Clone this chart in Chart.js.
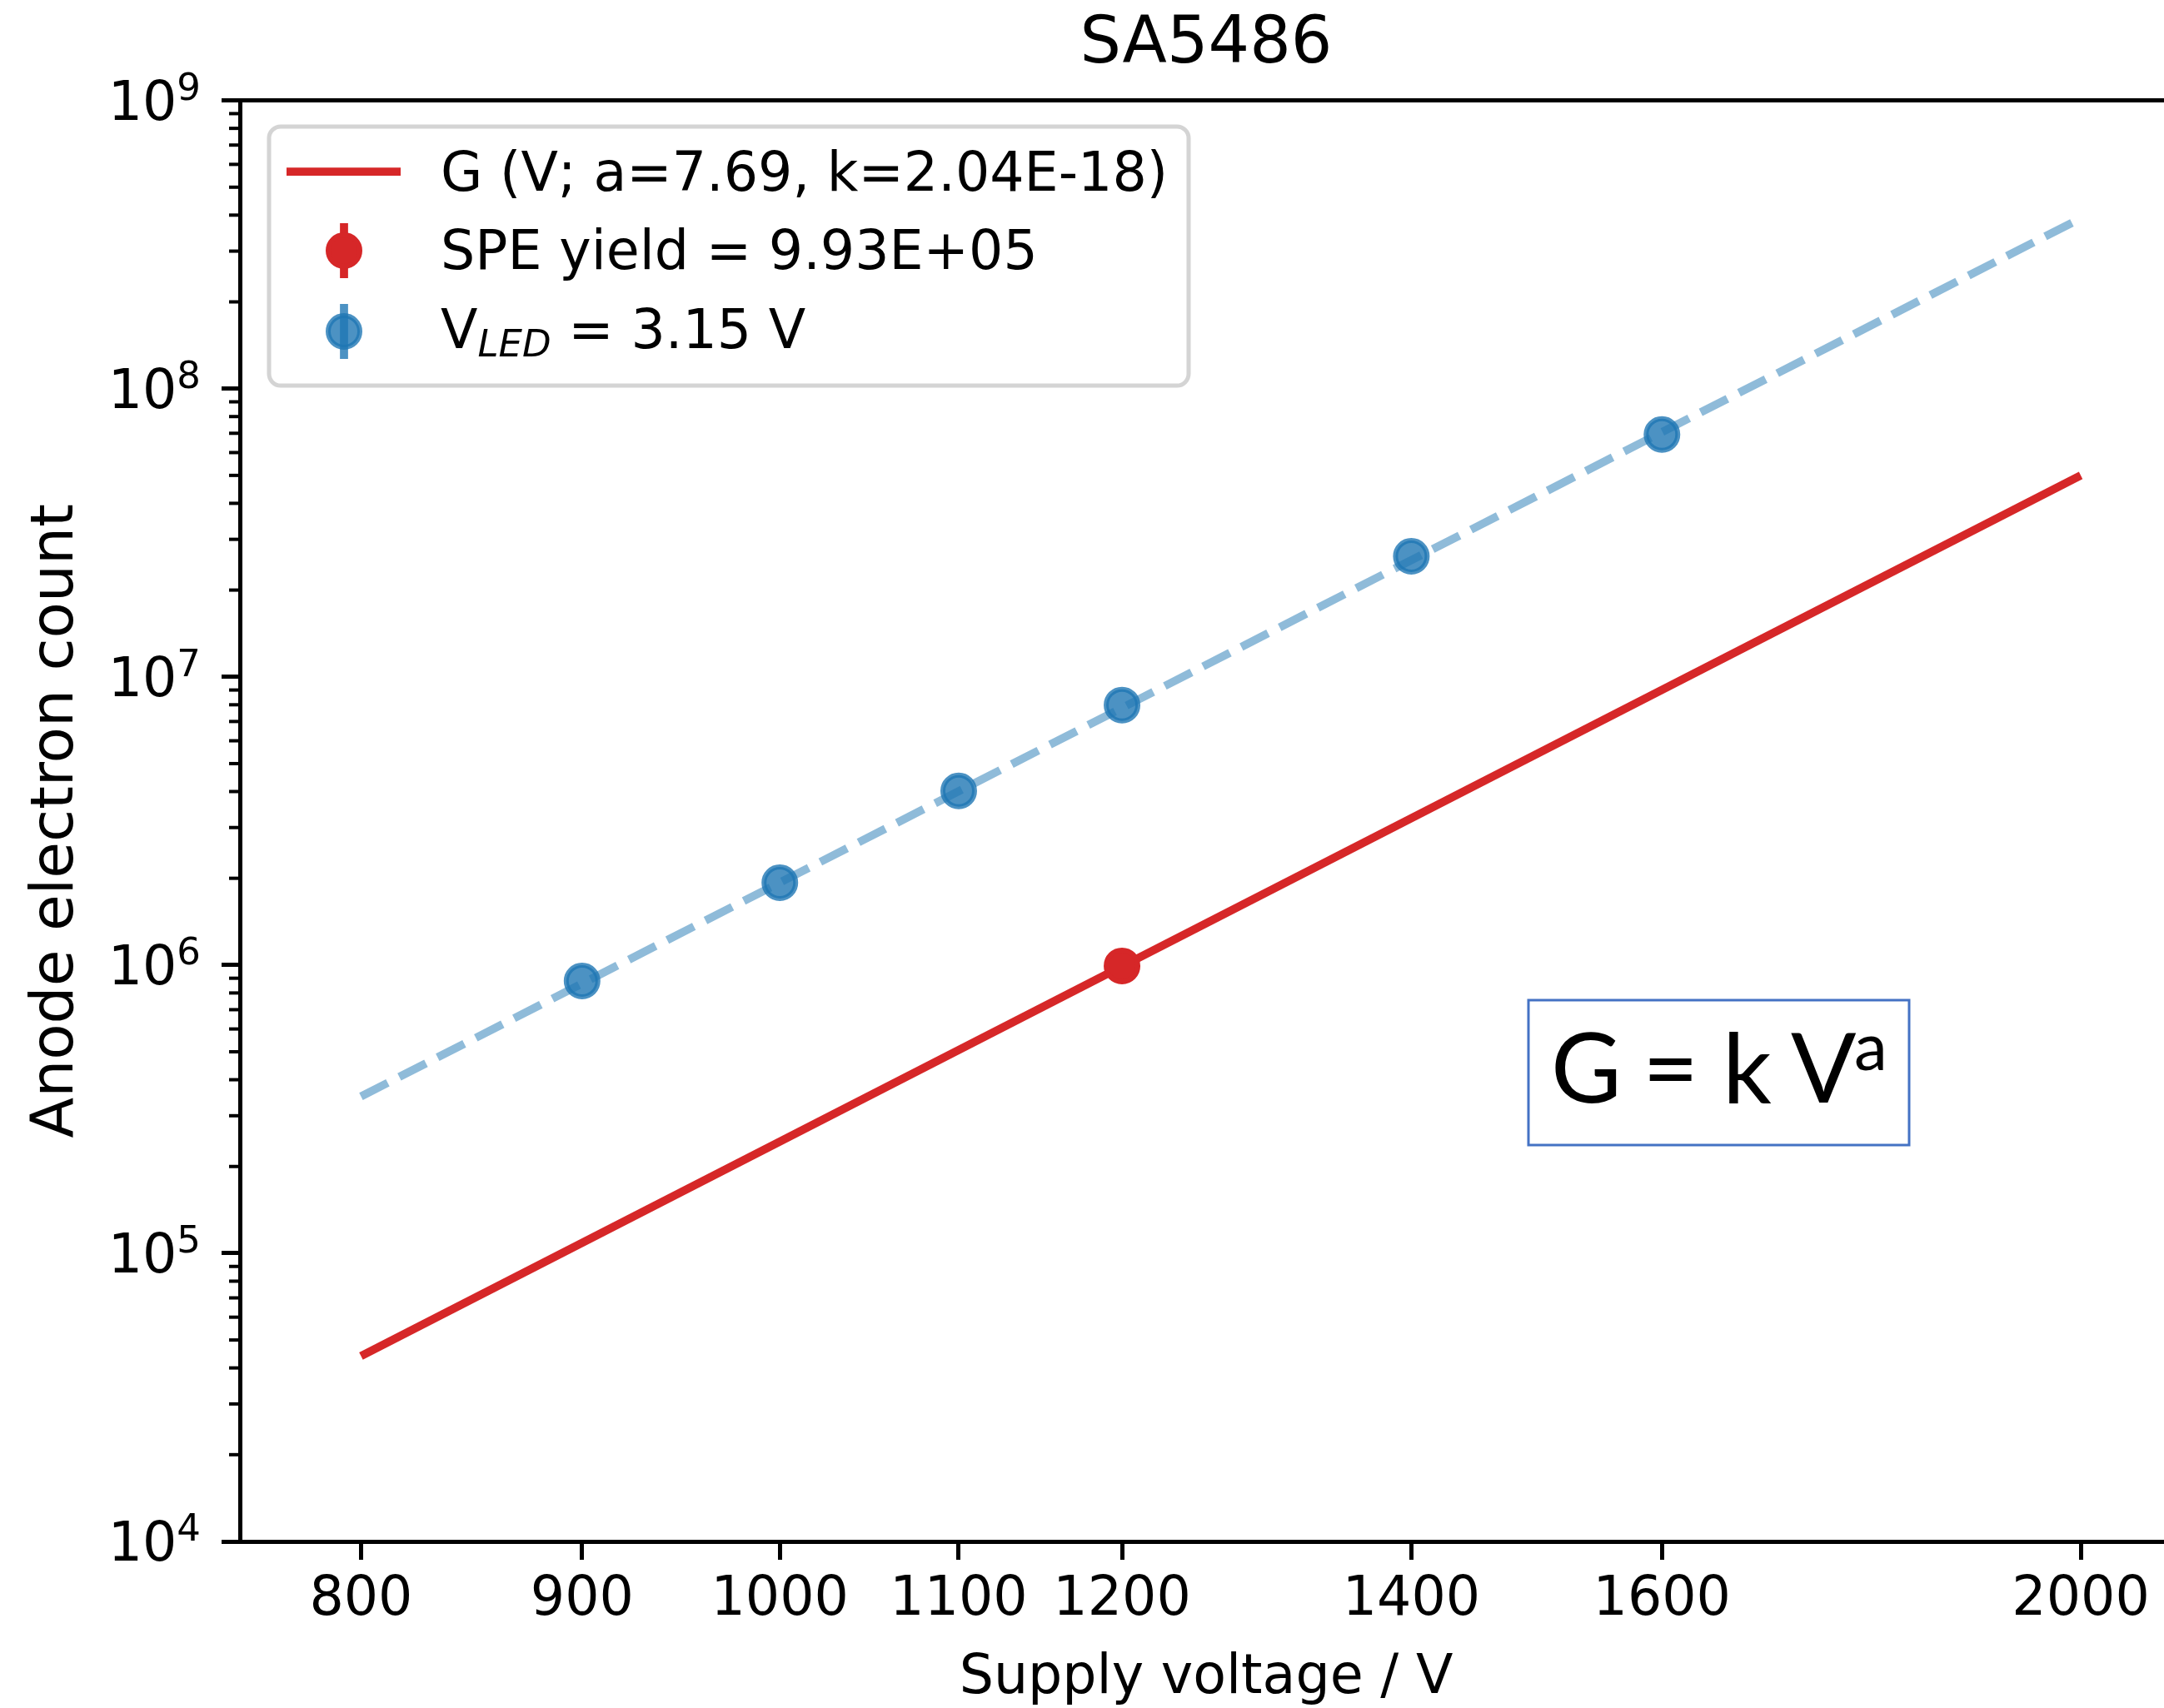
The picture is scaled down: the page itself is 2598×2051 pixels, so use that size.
<!DOCTYPE html>
<html>
<head>
<meta charset="utf-8">
<script src="https://cdn.jsdelivr.net/npm/chart.js@4.4.0/dist/chart.umd.min.js"></script>
<style>
  html, body { margin: 0; padding: 0; background: #fff; overflow: hidden; }
  canvas { display: block; }
</style>
</head>
<body>
<canvas id="gainChart" width="2633" height="2051"></canvas>
<script>
// measured points (LED runs) and SPE point
let voltages = [900, 1000, 1100, 1200, 1400, 1600];
let ledCounts = [8.8e5, 1.93e6, 4.02e6, 7.98e6, 2.62e7, 6.93e7];
let speVoltage = [1200];
let speCounts = [9.93e5];

// fitted lines, end points
let fitVoltages = [800, 2000];
let fitCounts = [4.4e4, 5.0e7];
let ledFitVoltages = [800, 2000];
let ledFitCounts = [3.5e5, 3.9e8];

let xTicks = [800, 900, 1000, 1100, 1200, 1400, 1600, 2000];
let yDecades = [4, 5, 6, 7, 8, 9];

let legendLabels = ['G (V; a=7.69, k=2.04E-18)', 'SPE yield = 9.93E+05', ' = 3.15 V'];

let red = '#d62728';
let blue = 'rgba(31, 119, 180, 0.8)';
let blueLine = 'rgba(31, 119, 180, 0.5)';

let toPoints = (xs, ys) => xs.map((x, i) => ({ x: x, y: ys[i] }));

Chart.defaults.font.family = "'DejaVu Sans'";
Chart.defaults.color = '#000';

let extrasPlugin = {
  id: 'extras',
  afterDraw: (chart) => {
    let ctx = chart.ctx;
    let area = chart.chartArea;
    let yScale = chart.scales.y;
    ctx.save();

    // top spine
    ctx.strokeStyle = '#000';
    ctx.lineWidth = 5;
    ctx.beginPath();
    ctx.moveTo(area.left - 2.5, area.top);
    ctx.lineTo(area.right + 3, area.top);
    ctx.stroke();

    // minor y ticks
    ctx.lineWidth = 4;
    yDecades.slice(0, -1).forEach((d) => {
      for (let m = 2; m <= 9; m++) {
        let y = yScale.getPixelForValue(m * Math.pow(10, d));
        ctx.beginPath();
        ctx.moveTo(area.left - 13, y);
        ctx.lineTo(area.left, y);
        ctx.stroke();
      }
    });

    // y tick labels 10^n
    ctx.fillStyle = '#000';
    ctx.textAlign = 'left';
    ctx.textBaseline = 'alphabetic';
    yDecades.forEach((d) => {
      let y = yScale.getPixelForValue(Math.pow(10, d));
      ctx.font = '65px "DejaVu Sans"';
      let w1 = ctx.measureText('10').width;
      ctx.font = '45px "DejaVu Sans"';
      let w2 = ctx.measureText(String(d)).width;
      let x0 = area.left - 47 - w1 - w2;
      ctx.font = '65px "DejaVu Sans"';
      ctx.fillText('10', x0, y + 23);
      ctx.font = '45px "DejaVu Sans"';
      ctx.fillText(String(d), x0 + w1, y - 1);
    });

    // axis titles
    ctx.font = '65px "DejaVu Sans"';
    ctx.textAlign = 'center';
    ctx.fillText('Supply voltage / V', (area.left + area.right) / 2, 2033);
    ctx.save();
    ctx.translate(87, (area.top + area.bottom) / 2);
    ctx.rotate(-Math.PI / 2);
    ctx.font = '71px "DejaVu Sans"';
    ctx.fillText('Anode electron count', 0, 0);
    ctx.restore();
    ctx.textAlign = 'left';

    // legend
    ctx.beginPath();
    ctx.roundRect(323, 152, 1104, 311, 14);
    ctx.fillStyle = 'rgba(255,255,255,0.8)';
    ctx.fill();
    ctx.strokeStyle = '#d4d4d4';
    ctx.lineWidth = 5;
    ctx.stroke();

    ctx.lineWidth = 9.75;
    ctx.strokeStyle = red;
    ctx.beginPath();
    ctx.moveTo(344, 206);
    ctx.lineTo(481, 206);
    ctx.stroke();

    let legendMarker = (y, color) => {
      ctx.strokeStyle = color;
      ctx.lineWidth = 9.75;
      ctx.beginPath();
      ctx.moveTo(413, y - 33);
      ctx.lineTo(413, y + 33);
      ctx.stroke();
      ctx.beginPath();
      ctx.arc(413, y, 19, 0, Math.PI * 2);
      ctx.fillStyle = color;
      ctx.fill();
      ctx.lineWidth = 6;
      ctx.stroke();
    };
    legendMarker(301, red);
    legendMarker(398, blue);

    ctx.fillStyle = '#000';
    ctx.font = '65px "DejaVu Sans"';
    ctx.fillText(legendLabels[0], 529, 229);
    ctx.fillText(legendLabels[1], 529, 323);
    ctx.fillText('V', 529, 418);
    let vW = ctx.measureText('V').width;
    ctx.font = 'italic 45px "DejaVu Sans"';
    ctx.fillText('LED', 529 + vW, 428);
    let subW = ctx.measureText('LED').width;
    ctx.font = '65px "DejaVu Sans"';
    ctx.fillText(legendLabels[2], 529 + vW + subW, 418);

    // formula box
    ctx.strokeStyle = '#4472c4';
    ctx.lineWidth = 3;
    ctx.strokeRect(1835, 1201, 457, 174);
    ctx.font = '116px Lato';
    ctx.fillText('G', 1862, 1324);
    ctx.fillText('=', 1972, 1324);
    ctx.fillText('k', 2068, 1324);
    ctx.fillText('V', 2150, 1324);
    ctx.font = '80px Lato';
    ctx.fillText('a', 2226, 1285);

    ctx.restore();
  },
};

let ctx = document.getElementById('gainChart').getContext('2d');

new Chart(ctx, {
  type: 'scatter',
  data: {
    datasets: [
      {
        label: 'SPE yield',
        data: toPoints(speVoltage, speCounts),
        pointBackgroundColor: red,
        pointBorderColor: red,
        pointRadius: 19,
        pointBorderWidth: 6,
        order: 0,
      },
      {
        label: 'V_LED',
        data: toPoints(voltages, ledCounts),
        pointBackgroundColor: blue,
        pointBorderColor: blue,
        pointRadius: 19,
        pointBorderWidth: 6,
        order: 1,
      },
      {
        label: 'G fit',
        data: toPoints(fitVoltages, fitCounts),
        showLine: true,
        borderColor: red,
        borderWidth: 9.75,
        pointRadius: 0,
        order: 2,
      },
      {
        label: 'LED fit',
        data: toPoints(ledFitVoltages, ledFitCounts),
        showLine: true,
        borderColor: blueLine,
        borderWidth: 9.75,
        borderDash: [36, 15.6],
        pointRadius: 0,
        order: 3,
      },
    ],
  },
  options: {
    responsive: false,
    animation: false,
    devicePixelRatio: 1,
    layout: { padding: { left: 266, right: 12, top: 0, bottom: 80.6 } },
    plugins: {
      legend: { display: false },
      tooltip: { enabled: false },
      title: {
        display: true,
        text: 'SA5486',
        fullSize: false,
        color: '#000',
        font: { size: 78, weight: 'normal', family: "'DejaVu Sans'" },
        padding: { top: 8, bottom: 19 },
      },
    },
    scales: {
      x: {
        type: 'logarithmic',
        min: 750,
        max: 2100,
        afterBuildTicks: (axis) => {
          axis.ticks = xTicks.map((v) => ({ value: v }));
        },
        ticks: {
          font: { size: 65 },
          color: '#000',
          padding: 9.7,
          autoSkip: false,
          maxRotation: 0,
          callback: (value) => String(value),
        },
        grid: {
          display: true,
          drawOnChartArea: false,
          drawTicks: true,
          tickLength: 22,
          tickWidth: 5,
          tickColor: '#000',
        },
        border: { display: true, color: '#000', width: 5 },
      },
      y: {
        type: 'logarithmic',
        min: 1e4,
        max: 1e9,
        afterBuildTicks: (axis) => {
          axis.ticks = yDecades.map((d) => ({ value: Math.pow(10, d) }));
        },
        ticks: { display: false },
        grid: {
          display: true,
          drawOnChartArea: false,
          drawTicks: true,
          tickLength: 22,
          tickWidth: 5,
          tickColor: '#000',
        },
        border: { display: true, color: '#000', width: 5 },
      },
    },
  },
  plugins: [extrasPlugin],
});
</script>
</body>
</html>
